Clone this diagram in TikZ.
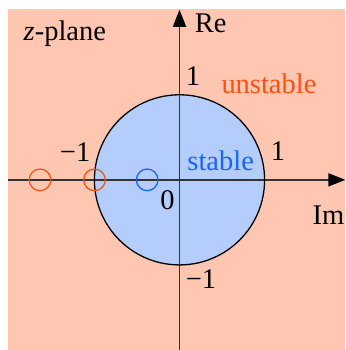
\documentclass[tikz,border=0pt]{standalone}
\usepackage{fontspec}
\setmainfont{Liberation Serif}
\usepackage{xcolor}
\usetikzlibrary{positioning, arrows.meta}

\definecolor{planepink}{RGB}{255,199,178}
\definecolor{diskblue}{RGB}{180,205,250}
\definecolor{unstableorange}{RGB}{255,80,20}
\definecolor{stableblue}{RGB}{25,100,255}

\begin{document}
\begin{tikzpicture}[
    x=1.05cm, y=1.05cm,
    axis/.style={line width=0.5pt, draw=black!80, -{Triangle[length=6pt, width=4.6pt, black]}},
    pole/.style={circle, draw=#1, line width=0.45pt, minimum size=0.267cm, inner sep=0pt},
    lbl/.style={inner sep=0pt, text=#1},
    lbl/.default=black
]
    \useasboundingbox (-2.11,-2.0) rectangle (1.95,2.114);
    \fill[planepink] (-2.015,-2.0) rectangle (1.95,2.008);
    \fill[diskblue] (0,0) circle[radius=1];

    % axes
    \coordinate (origin) at (0,0);
    \coordinate (xstart) at (-2.015,0);
    \coordinate (xend) at (1.95,0);
    \coordinate (ystart) at (0,-2.0);
    \coordinate (yend) at (0,2.0);
    \draw[axis] (xstart) -- (xend);
    \draw[axis] (ystart) -- (yend);
    \draw[black, line width=0.45pt] (origin) circle[radius=1];

    % poles
    \node[pole=unstableorange] (p1) at (-1.64,0) {};
    \node[pole=unstableorange] (p2) at (-1,0) {};
    \node[pole=stableblue] (p3) at (-0.38,0) {};

    % labels
    \node[lbl, anchor=base] (plane) at (-1.348,1.643) {\textit{z}-plane};
    \node[lbl, anchor=base west] (re) at (0.173,1.734) {Re};
    \node[lbl, anchor=base west] (im) at (1.558,-0.521) {Im};
    \node[lbl, anchor=base west] (top) at (0.067,1.106) {1};
    \node[lbl, anchor=base west] (right) at (1.067,0.232) {1};
    \node[lbl, anchor=base east] (left) at (-1.042,0.212) {−1};
    \node[lbl, anchor=base west] (bottom) at (0.067,-1.278) {−1};
    \node[lbl, anchor=base east] (zero) at (-0.051,-0.348) {0};
    \node[lbl=unstableorange, anchor=base west] (unst) at (0.487,1.02) {unstable};
    \node[lbl=stableblue, anchor=base west] (st) at (0.087,0.114) {stable};
\end{tikzpicture}
\end{document}
